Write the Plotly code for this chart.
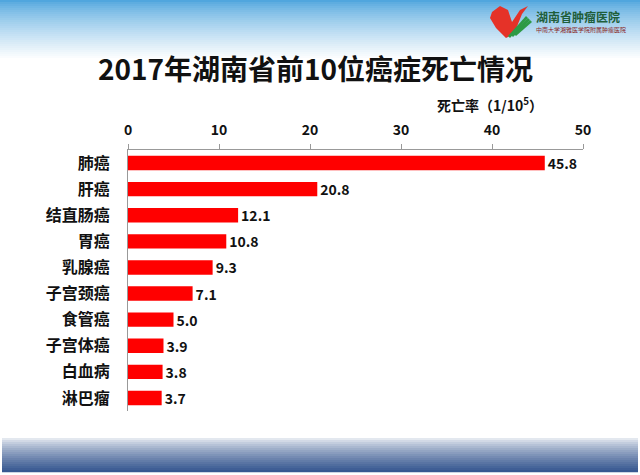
import plotly.graph_objects as go

categories = ["肺癌", "肝癌", "结直肠癌", "胃癌", "乳腺癌", "子宫颈癌", "食管癌", "子宫体癌", "白血病", "淋巴瘤"]
values = [45.8, 20.8, 12.1, 10.8, 9.3, 7.1, 5.0, 3.9, 3.8, 3.7]
tick_vals = [0, 10, 20, 30, 40, 50]

W, H = 640, 475
ML, MR, MT, MB = 128, 57, 150, 64
PW, PH = W - ML - MR, H - MT - MB

def px(x):
    return (x - ML) / PW

def py(y):
    return (H - MB - y) / PH

FONT = "Noto Sans CJK SC"

fig = go.Figure(go.Bar(
    x=values, y=categories, orientation="h",
    marker=dict(color="#ff0000", line=dict(width=0)),
    width=0.55,
    text=[f"{v:.1f}" for v in values], textposition="outside",
    constraintext="none",
    textfont=dict(family=FONT, size=14, color="#111111", weight="bold"),
    cliponaxis=False,
))

shapes = []
# top gradient band
n = 30
top_c = (80, 166, 222)
for i in range(n):
    y0 = i * 2
    t = i / (n - 1)
    c = tuple(int(top_c[k] + (255 - top_c[k]) * t ** 0.75) for k in range(3))
    shapes.append(dict(type="rect", xref="paper", yref="paper", layer="below",
                       x0=px(0), x1=px(W), y0=py(y0), y1=py(y0 + 2.2),
                       fillcolor=f"rgb{c}", line=dict(width=0)))
# bottom gradient band
bot_c = (55, 88, 145)
nb = 18
for i in range(nb):
    y0 = 436 + i * 2
    t = i / (nb - 1)
    c = tuple(int(255 + (bot_c[k] - 255) * t ** 0.7) for k in range(3))
    shapes.append(dict(type="rect", xref="paper", yref="paper", layer="below",
                       x0=px(2), x1=px(W - 2), y0=py(y0), y1=py(y0 + 2.2),
                       fillcolor=f"rgb{c}", line=dict(width=0)))

# logo heart (decorative)
def path(points):
    return "M " + " L ".join(f"{px(x)},{py(y)}" for x, y in points) + " Z"

shapes.append(dict(type="path", xref="paper", yref="paper",
                   path=path([(492, 12), (500, 6), (508, 10), (512, 22), (520, 10), (528, 6), (522, 14), (514, 34), (506, 38), (496, 28), (490, 18)]),
                   fillcolor="#e53228", line=dict(width=0)))
for k in range(3):
    shapes.append(dict(type="path", xref="paper", yref="paper",
                       path=path([(508 + k * 3, 36 - k * 1), (526 + k * 2, 16 + k * 2), (528 + k * 2, 18 + k * 2), (510 + k * 3, 38 - k * 1)]),
                       fillcolor="#2e9a46", line=dict(width=0)))

fig.update_layout(shapes=shapes)

annotations = [
    dict(text="2017年湖南省前10位癌症死亡情况", x=px(315), y=py(68), xref="paper", yref="paper",
         showarrow=False, xanchor="center", yanchor="middle",
         font=dict(family=FONT, size=28, color="#111111", weight="bold")),
    dict(text="死亡率（1/10<sup>5</sup>）", x=px(545), y=py(104), xref="paper", yref="paper",
         showarrow=False, xanchor="right", yanchor="middle",
         font=dict(family=FONT, size=14, color="#111111", weight="bold")),
    dict(text="湖南省肿瘤医院", x=px(534), y=py(17), xref="paper", yref="paper",
         showarrow=False, xanchor="left", yanchor="middle",
         font=dict(family=FONT, size=12, color="#1f5e3a", weight="bold")),
    dict(text="中南大学湘雅医学院附属肿瘤医院", x=px(534), y=py(30), xref="paper", yref="paper",
         showarrow=False, xanchor="left", yanchor="middle",
         font=dict(family=FONT, size=6, color="#8a2a2a")),
]

fig.update_layout(
    width=W, height=H,
    margin=dict(l=ML, r=MR, t=MT, b=MB, pad=0),
    paper_bgcolor="white", plot_bgcolor="rgba(0,0,0,0)",
    showlegend=False,
    annotations=annotations,
    xaxis=dict(range=[0, 50], side="top", tickvals=tick_vals, showgrid=False, zeroline=False,
               showline=True, linecolor="#999999", linewidth=1,
               ticks="outside", ticklen=5, tickcolor="#999999",
               tickfont=dict(family=FONT, size=14, color="#111111", weight="bold"),
               ticklabelstandoff=3, fixedrange=True),
    yaxis=dict(autorange="reversed", showgrid=False, zeroline=False,
               showline=True, linecolor="#999999", linewidth=1, ticks="",
               tickfont=dict(family=FONT, size=16, color="#111111", weight="bold"),
               ticklabelstandoff=14, fixedrange=True),
)

fig.write_html("out.html")
